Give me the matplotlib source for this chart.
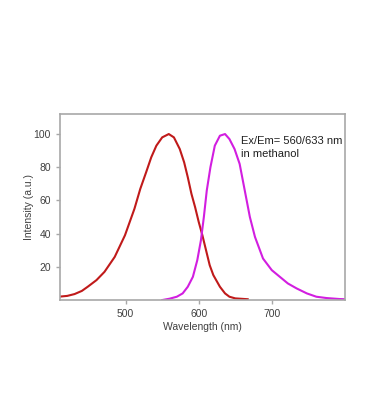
import matplotlib
matplotlib.use("Agg")
import matplotlib.pyplot as plt

plt.rcParams['font.family'] = ['Liberation Sans', 'DejaVu Sans']

# excitation spectrum (red)
ex_wl = [408, 420, 430, 440, 448, 460, 471, 485, 499, 512, 520, 528, 535, 542, 550, 559,
         566, 574, 580, 585, 590, 595, 600, 605, 610, 615, 620, 629, 636, 642, 650, 667]
ex_int = [2, 2.5, 3.6, 5.5, 8, 12, 17, 26, 39, 55, 67, 77, 86, 93, 98, 100,
          98, 91, 83, 74, 64, 56, 47, 39, 30, 21, 15, 8, 4, 2, 1, 0.5]

# emission spectrum (magenta)
em_wl = [550, 560, 570, 578, 585, 592, 598, 603, 607, 611, 616, 622, 629, 636, 642, 649,
         656, 663, 670, 677, 688, 700, 711, 722, 734, 748, 761, 775, 793, 800]
em_int = [0, 0.8, 2, 4, 8, 14, 24, 36, 50, 66, 80, 93, 99, 100, 97, 91,
          82, 66, 50, 38, 25, 18, 14, 10, 7, 4, 2, 1.2, 0.6, 0.5]

xticks = [500, 600, 700]
yticks = [20, 40, 60, 80, 100]

fig = plt.figure(figsize=(3.7, 4.15), dpi=100)
ax = fig.add_axes([0.162, 0.277, 0.770, 0.448])

ax.plot(ex_wl, ex_int, color='#c01a1a', lw=1.5)
ax.plot(em_wl, em_int, color='#d21ee0', lw=1.5)

ax.set_xlim(410, 800)
ax.set_ylim(0, 112)
ax.set_xticks(xticks)
ax.set_yticks(yticks)

for s in ax.spines.values():
    s.set_color('#a8a8a8')
    s.set_linewidth(1.2)
ax.tick_params(colors='#a8a8a8', labelcolor='#404040', labelsize=7.5, length=3, width=1)
ax.set_xlabel('Wavelength (nm)', fontsize=7.5, color='#404040', labelpad=2)
ax.set_ylabel('Intensity (a.u.)', fontsize=7.5, color='#404040', labelpad=0)

ax.text(0.635, 0.885, 'Ex/Em= 560/633 nm\nin methanol', transform=ax.transAxes,
        fontsize=8, color='#202020', va='top', ha='left', linespacing=1.45)

fig.savefig('out.png', dpi=100)
